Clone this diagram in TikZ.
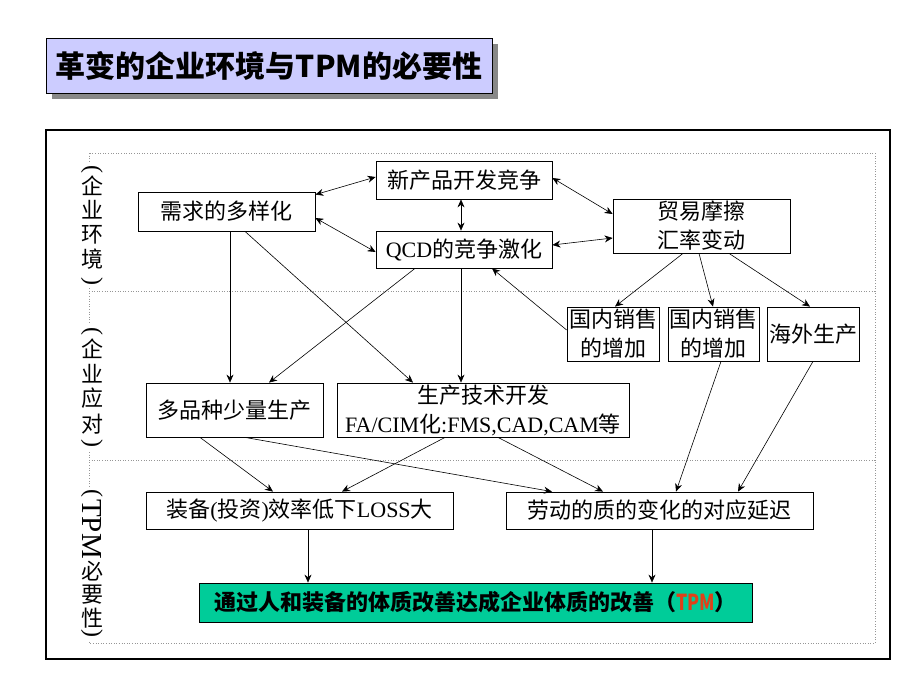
\documentclass[tikz,border=0pt]{standalone}
\usepackage{fontspec}
\usepackage{graphicx}
\setmainfont{Liberation Serif}
\newfontfamily\cjk{Noto Sans CJK SC}
\newfontfamily\lat{Liberation Serif}
\usetikzlibrary{arrows.meta,calc}
\definecolor{titlefill}{RGB}{204,204,255}
\definecolor{shadowgray}{RGB}{136,136,136}
\definecolor{greenfill}{RGB}{0,204,153}
\definecolor{tpmred}{RGB}{224,64,24}
\definecolor{dotgray}{RGB}{150,150,150}
\begin{document}
\begin{tikzpicture}[x=1pt,y=-1pt,
  box/.style={draw, line width=0.8pt, fill=white, inner sep=0pt, align=center,
    font=\cjk\fontsize{22}{29}\selectfont},
  labch/.style={inner sep=0pt, font=\cjk\fontsize{22}{24}\selectfont},
  labpar/.style={inner sep=0pt, rotate=-90, font=\lat\fontsize{24}{24}\selectfont},
  conn/.style={line width=0.6pt, -{Stealth[length=8pt,width=7pt]}},
  bconn/.style={line width=0.6pt, {Stealth[length=8pt,width=7pt]}-{Stealth[length=8pt,width=7pt]}},
  dotline/.style={dotgray, dotted, line width=0.6pt}
]
\useasboundingbox (0,0) rectangle (920,690);
\fill[white] (0,0) rectangle (920,690);

% title
\fill[shadowgray] (52,44) rectangle (498,99);
\node[draw, line width=0.9pt, fill=titlefill, minimum width=446pt, minimum height=55pt, inner sep=0pt,
  font=\cjk\bfseries\fontsize{30}{32}\selectfont] (title) at (269,65.5) {革变的企业环境与TPM的必要性};

% frames
\draw[line width=1.2pt] (46,130) rectangle (890,659);
\draw[dotline] (89,153) rectangle (875,643);
\draw[dotline] (89,291) -- (875,291);
\draw[dotline] (89,460) -- (875,460);

% white gaps behind the side labels
\fill[white] (79,162) rectangle (105,288);
\fill[white] (79,324) rectangle (105,450);
\fill[white] (79,487) rectangle (105,640);

% side label 1
\node[labpar] (l1a) at (92,169) {(};
\node[labch] (l1b) at (92,186) {企};
\node[labch] (l1c) at (92,210) {业};
\node[labch] (l1d) at (92,234.5) {环};
\node[labch] (l1e) at (92,259.5) {境};
\node[labpar] (l1f) at (92,281) {)};
% side label 2
\node[labpar] (l2a) at (92,331) {(};
\node[labch] (l2b) at (92,348.5) {企};
\node[labch] (l2c) at (92,373.5) {业};
\node[labch] (l2d) at (92,398.5) {应};
\node[labch] (l2e) at (92,424) {对};
\node[labpar] (l2f) at (92,443) {)};
% side label 3
\node[labpar] (l3a) at (92,493) {(};
\node[labpar, font=\lat\fontsize{29}{29}\selectfont] (l3b) at (92,529) {TPM};
\node[labch] (l3c) at (92,571) {必};
\node[labch] (l3d) at (92,595) {要};
\node[labch] (l3e) at (92,618) {性};
\node[labpar] (l3f) at (92,633) {)};

% nodes
\node[box, minimum width=177pt, minimum height=39pt] (xq) at (226.5,211.5) {需求的多样化};
\node[box, minimum width=176pt, minimum height=38pt] (xcp) at (464,180) {新产品开发竞争};
\node[box, minimum width=176pt, minimum height=37pt] (qcd) at (464,249.5) {{\lat QCD}的竞争激化};
\node[box, minimum width=177pt, minimum height=54pt] (my) at (701.5,226) {贸易摩擦\\汇率变动};
\node[box, minimum width=92pt, minimum height=54pt] (gn1) at (613,334) {国内销售\\的增加};
\node[box, minimum width=91pt, minimum height=54pt] (gn2) at (713.5,334) {国内销售\\的增加};
\node[box, minimum width=92pt, minimum height=54pt] (hw) at (813,334) {海外生产};
\node[box, minimum width=177pt, minimum height=54pt] (dp) at (234.5,410) {多品种少量生产};
\node[box, minimum width=292pt, minimum height=54pt] (sc) at (483,410) {生产技术开发\\{\lat FA/CIM}化{\lat :FMS,CAD,CAM}等};
\node[box, minimum width=307pt, minimum height=37pt] (zb) at (299.5,510.5) {装备{\lat (}投资{\lat )}效率低下{\lat LOSS}大};
\node[box, minimum width=307pt, minimum height=37pt] (ld) at (659.5,510.5) {劳动的质的变化的对应延迟};
\node[box, fill=greenfill, minimum width=553pt, minimum height=39pt, font=\cjk\bfseries\fontsize{22}{26}\selectfont] (tpm) at (475.5,602.5)
  {通过人和装备的体质改善达成企业体质的改善（{\color{tpmred}\scalebox{0.8}[1]{TPM}}）};

% connectors
\draw[bconn] ($(xq.north east)+(0,3)$) -- ($(xcp.west)+(0,-3)$);
\draw[bconn] ($(xq.east)+(0,6.5)$) -- ($(qcd.west)+(0,2.5)$);
\draw[bconn] ($(xcp.south)+(-3,0)$) -- ($(qcd.north)+(-3,0)$);
\draw[bconn] ($(xcp.east)+(0,-2)$) -- ($(my.west)+(0,-12)$);
\draw[bconn] ($(qcd.east)+(0,-4.5)$) -- ($(my.west)+(0,12)$);
\draw[conn] ($(my.south)+(-18.5,0)$) -- ($(gn1.north)+(2,0)$);
\draw[conn] ($(my.south)+(-2.5,0)$) -- ($(gn2.north)+(-0.5,0)$);
\draw[conn] ($(my.south)+(27.5,0)$) -- ($(hw.north)+(-3,0)$);
\draw[conn] ($(gn1.west)+(0,-4)$) -- ($(qcd.south)+(28,0)$);
\draw[conn] ($(xq.south)+(3.5,0)$) -- ($(dp.north)+(-4.5,0)$);
\draw[conn] ($(xq.south)+(18.5,0)$) -- ($(sc.north)+(-70,0)$);
\draw[conn] ($(qcd.south)+(-49,0)$) -- ($(dp.north)+(34.5,0)$);
\draw[conn] ($(qcd.south)+(-3,0)$) -- ($(sc.north)+(-22,0)$);
\draw[conn] ($(dp.south)+(-34.5,0)$) -- ($(zb.north)+(-26.5,0)$);
\draw[conn] ($(dp.south)+(10.5,0)$) -- ($(ld.north)+(-107.5,0)$);
\draw[conn] ($(sc.south)+(-38,0)$) -- ($(zb.north)+(42.5,0)$);
\draw[conn] ($(sc.south)+(15,0)$) -- ($(ld.north)+(-56.5,0)$);
\draw[conn] ($(gn2.south)+(7.5,0)$) -- ($(ld.north)+(16.5,0)$);
\draw[conn] (hw.south) -- ($(ld.north)+(78.5,0)$);
\draw[conn] ($(zb.south)+(8.5,0)$) -- ($(tpm.north)+(-167.5,0)$);
\draw[conn] ($(ld.south)+(-7.5,0)$) -- ($(tpm.north)+(176.5,0)$);
\end{tikzpicture}
\end{document}
